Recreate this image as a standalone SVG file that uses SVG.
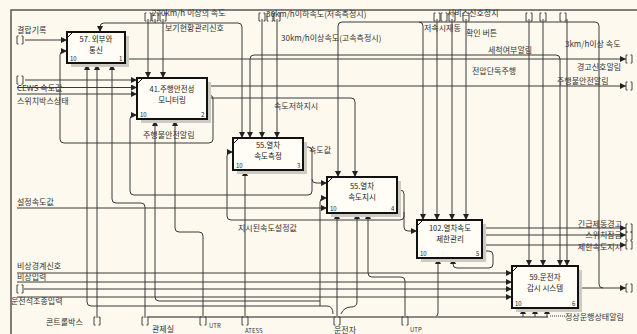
<svg xmlns="http://www.w3.org/2000/svg" width="637" height="334" viewBox="0 0 637 334">
<style>
text{font-family:"Noto Sans CJK KR","Noto Sans",sans-serif;font-size:8px;fill:#333}
.t{font-size:7.5px;text-anchor:middle;fill:#222}
.n{font-size:6px;fill:#222}
.s{font-size:6px}
.e{text-anchor:end}
.c{fill:none;stroke:#3a3a3a;stroke-width:1}
.a{marker-end:url(#ah)}
.box{fill:#fffdf5;stroke:#111;stroke-width:2}
.sh{fill:#cbcbc3}
.tk{fill:none;stroke:#111;stroke-width:1}
.bus{fill:none;stroke:#8a8a84;stroke-width:2}
.frame{fill:none;stroke:#555;stroke-width:1.5}
</style>
<defs>
<marker id="ah" viewBox="0 0 6 6" refX="6" refY="3" markerWidth="6" markerHeight="6" markerUnits="userSpaceOnUse" orient="auto"><path d="M0 0 L6 3 L0 6 Z" fill="#222"/></marker>
<path id="tun" d="M-1.5 -4 H-3 V4 H-1.5 M1.5 -4 H3 V4 H1.5" fill="none" stroke="#444" stroke-width="1"/>
</defs>
<rect width="637" height="334" fill="#fdf9ee"/>
<path class="frame" d="M11 334 V10 H637"/>

<g id="connectors">
<path class="c a" d="M25 40 H67"/>
<path class="c a" d="M207 95 H209 Q213 95 213 99 V139 Q213 143 209 143 H64 Q60 143 60 139 V55 Q60 51 64 51 H67"/>
<path class="c a" d="M25 80 H137"/>
<path class="c a" d="M17 87.5 H137"/>
<path class="c a" d="M17 94 H137"/>
<path class="c a" d="M303 147 H308 Q312 147 312 151 V191 Q312 195 308 195 H134 Q130 195 130 191 V119 Q130 115 134 115 H137"/>
<path class="c a" d="M312 179 Q312 183 316 183 H327"/>
<path class="c a" d="M207 98 H351 Q355 98 355 102 V177"/>
<path class="c a" d="M17 208 H327"/>
<path class="c a" d="M320 306 V202 Q320 198 324 198 H327"/>
<path class="c a" d="M397 190 H400 Q404 190 404 194 V227 Q404 231 408 231 H417"/>
<path class="c a" d="M404 212 V216 Q404 220 400 220 H231 Q227 220 227 216 V156 Q227 152 231 152 H233"/>
<path class="c" d="M155 19 V23"/>
<path class="c a" d="M170 23 H104 Q100 23 100 27 V32"/>
<path class="c a" d="M170 23 H238 Q242 23 242 27 V138"/>
<path class="c a" d="M148 19 V78"/>
<path class="c a" d="M163 19 V78"/>
<path class="c a" d="M262 19 V138"/>
<path class="c a" d="M277 19 V138"/>
<path class="c a" d="M400 55 H254 Q250 55 250 59 V138"/>
<path class="c a" d="M400 55 H556 Q560 55 560 59 V266"/>
<path class="c a" d="M380 22 H342 Q338 22 338 26 V177"/>
<path class="c" d="M380 22 H595 Q599 22 599 26 V284 Q599 288 603 288"/>
<path class="c a" d="M419 22 Q423 22 423 26 V220"/>
<path class="c a" d="M437 19 V220"/>
<path class="c a" d="M452 19 V220"/>
<path class="c a" d="M466 19 V220"/>
<path class="c a" d="M529 19 V266"/>
<path class="c a" d="M543 19 V266"/>
<path class="c a" d="M567 19 V266"/>
<path class="c a" d="M125 59 H626"/>
<path class="c a" d="M207 86 H626"/>
<path class="c a" d="M482 228 H626"/>
<path class="c a" d="M482 235 H626"/>
<path class="c a" d="M482 245 H626"/>
<path class="c a" d="M482 251 H489 Q493 251 493 255 V264 Q493 268 489 268 H457 Q453 268 453 264 V258"/>
<path class="c a" d="M425 317 H434 Q438 317 438 313 V258"/>
<path class="c a" d="M17 273 H512"/>
<path class="c a" d="M17 282 H512"/>
<path class="c a" d="M24 289 H512"/>
<path class="c a" d="M17 297 H512"/>
<path class="c a" d="M333 314 Q333 306 327 306 H91 Q87 306 87 302 V64"/>
<path class="c a" d="M97 318 V64"/>
<path class="c a" d="M145 318 V207 Q145 203 141 203 H116 Q112 203 112 199 V64"/>
<path class="c a" d="M320 301 H159 Q155 301 155 297 V120"/>
<path class="c a" d="M203 318 V236 Q203 232 199 232 H179 Q175 232 175 228 V120"/>
<path class="c a" d="M245 318 V170"/>
<path class="c a" d="M337 316 V213"/>
<path class="c a" d="M341 314 Q344 307 351 307 Q357 307 357 302 V213"/>
<path class="c a" d="M405 316 V281 Q405 277 401 277 H372 Q368 277 368 273 V213"/>
<path class="c a" d="M578 288 H626"/>
<path class="bus" d="M148 317 H548"/>
<path class="c a" d="M523 317 V308"/>
<path class="c a" d="M535 317 V308"/>
<path class="c a" d="M547 317 V308"/>
<path class="c" d="M550 316 H565" stroke-dasharray="1 1"/>
<use href="#tun" x="20" y="40"/>
<use href="#tun" x="20" y="80"/>
<use href="#tun" x="20" y="289"/>
<use href="#tun" x="148" y="17"/>
<use href="#tun" x="155" y="17"/>
<use href="#tun" x="163" y="17"/>
<use href="#tun" x="262" y="17"/>
<use href="#tun" x="270" y="17"/>
<use href="#tun" x="277" y="17"/>
<use href="#tun" x="437" y="17"/>
<use href="#tun" x="444" y="17"/>
<use href="#tun" x="452" y="17"/>
<use href="#tun" x="466" y="17"/>
<use href="#tun" x="529" y="17"/>
<use href="#tun" x="543" y="17"/>
<use href="#tun" x="563" y="17"/>
<use href="#tun" x="629" y="59"/>
<use href="#tun" x="629" y="86"/>
<use href="#tun" x="629" y="228"/>
<use href="#tun" x="629" y="236"/>
<use href="#tun" x="629" y="245"/>
<use href="#tun" x="629" y="288"/>
<use href="#tun" x="97" y="321"/>
<use href="#tun" x="145" y="321"/>
<use href="#tun" x="203" y="321"/>
<use href="#tun" x="245" y="321"/>
<use href="#tun" x="337" y="321"/>
<use href="#tun" x="405" y="321"/>
</g>

<g id="labels">
<text x="17" y="33">결합기록</text>
<text x="17" y="91">CEWS 속도값</text>
<text x="17" y="104">스위치박스상태</text>
<text x="17" y="205">설정속도값</text>
<text x="17" y="269">비상경계신호</text>
<text x="17" y="280">비상입력</text>
<text x="11" y="304">운전석조종입력</text>
<text x="46" y="325">콘트롤박스</text>
<text x="152" y="332">관제실</text>
<text class="s" x="209" y="328">UTR</text>
<text class="s" x="245" y="333">ATESS</text>
<text x="334" y="333">운전자</text>
<text class="s" x="410" y="332">UTP</text>
<text x="152" y="16">270km/h 이상의 속도</text>
<text x="165" y="31">보기현황관리신호</text>
<text x="266" y="17">30km/h이하속도(저속측정시)</text>
<text x="281" y="41">30km/h이상속도(고속측정시)</text>
<text x="274" y="109">속도저하지시</text>
<text x="143" y="138">주행불안전알림</text>
<text x="309" y="153">속도값</text>
<text x="238" y="231">지시된속도설정값</text>
<text x="447" y="16">서비스신호정지</text>
<text x="424" y="31">저속시재동</text>
<text x="466" y="36">확인 버튼</text>
<text x="488" y="53">세척여부알림</text>
<text x="565" y="47">3km/h이상 속도</text>
<text x="472" y="74">전압단독주행</text>
<text x="577" y="70">경고신호알림</text>
<text x="557" y="84">주행불안전알림</text>
<text class="e" x="622" y="227">긴급제동경고</text>
<text class="e" x="622" y="238">스위치잠금</text>
<text class="e" x="622" y="250">제한속도지시</text>
<text x="565" y="320">정상운행상태알림</text>
</g>

<g id="n57">
<rect class="sh" x="71" y="36" width="58" height="31"/>
<rect class="box" x="67" y="32" width="58" height="31"/>
<path class="tk" d="M67 38 L73 32"/>
<text class="t" x="96" y="42">57. 외부와</text>
<text class="t" x="96" y="53">통신</text>
<text class="n" x="70" y="61">10</text>
<text class="n" x="119" y="61">1</text>
</g>
<g id="n41">
<rect class="sh" x="141" y="82" width="70" height="41"/>
<rect class="box" x="137" y="78" width="70" height="41"/>
<path class="tk" d="M137 84 L143 78"/>
<text class="t" x="172" y="92">41.주행안전성</text>
<text class="t" x="172" y="103">모니터링</text>
<text class="n" x="140" y="117">10</text>
<text class="n" x="201" y="117">2</text>
</g>
<g id="n55a">
<rect class="sh" x="237" y="142" width="70" height="32"/>
<rect class="box" x="233" y="138" width="70" height="32"/>
<path class="tk" d="M233 144 L239 138"/>
<text class="t" x="268" y="148">55.열차</text>
<text class="t" x="268" y="159">속도측정</text>
<text class="n" x="236" y="168">10</text>
<text class="n" x="297" y="168">3</text>
</g>
<g id="n55b">
<rect class="sh" x="331" y="181" width="70" height="36"/>
<rect class="box" x="327" y="177" width="70" height="36"/>
<path class="tk" d="M327 183 L333 177"/>
<text class="t" x="362" y="189">55.열차</text>
<text class="t" x="362" y="200">속도지시</text>
<text class="n" x="330" y="211">10</text>
<text class="n" x="391" y="211">4</text>
</g>
<g id="n102">
<rect class="sh" x="421" y="224" width="65" height="38"/>
<rect class="box" x="417" y="220" width="65" height="38"/>
<path class="tk" d="M417 226 L423 220"/>
<text class="t" x="450" y="231">102.열차속도</text>
<text class="t" x="450" y="242">제한관리</text>
<text class="n" x="420" y="256">10</text>
<text class="n" x="476" y="256">5</text>
</g>
<g id="n59">
<rect class="sh" x="516" y="270" width="66" height="42"/>
<rect class="box" x="512" y="266" width="66" height="42"/>
<path class="tk" d="M512 272 L518 266"/>
<text class="t" x="545" y="280">59.운전자</text>
<text class="t" x="545" y="291">감시 시스템</text>
<text class="n" x="515" y="306">10</text>
<text class="n" x="572" y="306">6</text>
</g>
</svg>
